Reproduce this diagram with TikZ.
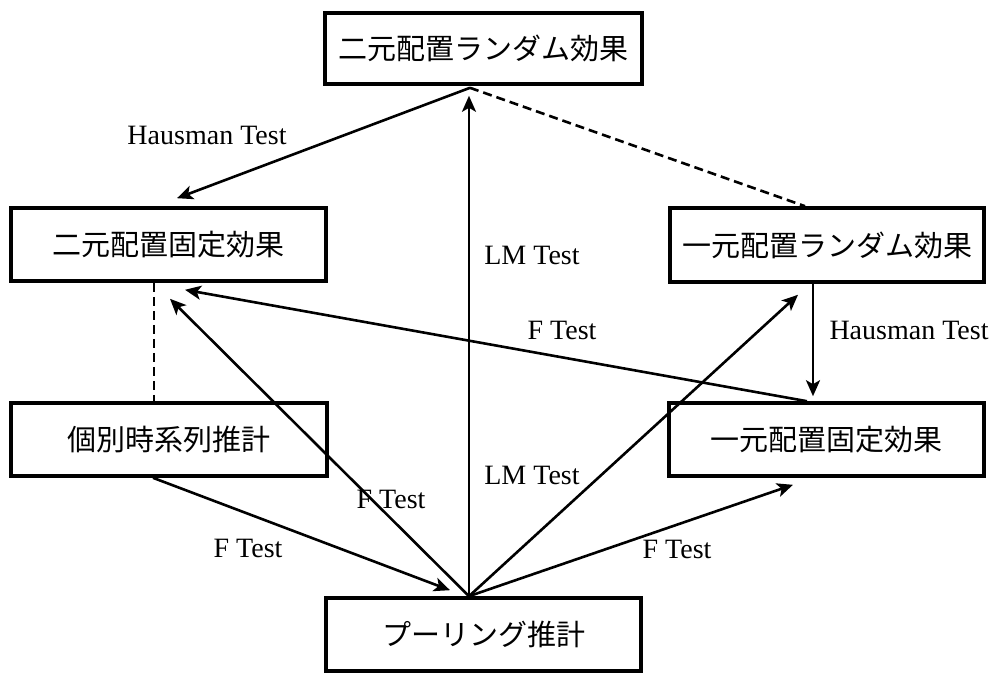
\documentclass[tikz,border=0pt]{standalone}
\usepackage{fontspec}
\setmainfont{Liberation Serif}
\newfontfamily\jp{Noto Sans CJK JP}
\usetikzlibrary{arrows.meta}
\begin{document}
\begin{tikzpicture}[x=1pt,y=-1pt,
  box/.style={draw,line width=3.6pt,minimum height=73pt,inner sep=0pt,font=\jp\fontsize{29}{34}\selectfont},
  conn/.style={line width=2.6pt,-{Stealth[length=16pt,width=14pt,inset=4pt]}},
  dashline/.style={line width=2.6pt,dash pattern=on 9pt off 5pt},
  lbl/.style={font=\fontsize{28}{32}\selectfont,inner sep=0pt}]
\useasboundingbox (0,0) rectangle (999,673);
\fill[white] (0,0) rectangle (999,673);
% boxes
\node[box,minimum width=317pt,minimum height=71pt] (top) at (483.5,48.5) {二元配置ランダム効果};
\node[box,minimum width=315pt] (lf) at (168.5,244.5) {二元配置固定効果};
\node[box,minimum width=314pt,minimum height=74pt] (rr) at (827,245) {一元配置ランダム効果};
\node[box,minimum width=316pt] (ind) at (169,439.5) {個別時系列推計};
\node[box,minimum width=315pt] (rf) at (826.5,439.5) {一元配置固定効果};
\node[box,minimum width=315pt] (pool) at (483.5,634.5) {プーリング推計};
% attachment points
\coordinate (tapex) at ([xshift=-13.5pt,yshift=-2pt]top.south);
\coordinate (papex) at ([xshift=-14.5pt]pool.north);
% connectors
\draw[conn] (tapex) -- ([xshift=8.5pt,yshift=8pt]lf.north);
\draw[dashline] (tapex) -- ([xshift=-22pt]rr.north);
\draw[conn] (papex) -- ([xshift=-14.5pt,yshift=-10pt]top.south);
\draw[dashline] ([xshift=-14.5pt]lf.south) -- ([xshift=-15pt]ind.north);
\draw[conn] ([xshift=-19.5pt]rf.north) -- ([xshift=16.5pt,yshift=-7pt]lf.south);
\draw[conn] ([xshift=-14pt]rr.south) -- ([xshift=-13.5pt,yshift=5pt]rf.north);
\draw[conn] (papex) -- ([xshift=1.5pt,yshift=-16pt]lf.south);
\draw[conn] (papex) -- ([xshift=-29pt,yshift=-11pt]rr.south);
\draw[conn] (papex) -- ([xshift=-33.5pt,yshift=-7pt]rf.south);
\draw[conn] ([xshift=-16pt]ind.south) -- ([xshift=-33.5pt,yshift=6pt]pool.north);
% labels
\node[lbl] (l1) at (207,135) {Hausman Test};
\node[lbl] (l2) at (532,255) {LM Test};
\node[lbl] (l3) at (562,330) {F Test};
\node[lbl] (l4) at (532,475) {LM Test};
\node[lbl] (l5) at (909,330) {Hausman Test};
\node[lbl] (l6) at (248,548) {F Test};
\node[lbl] (l7) at (391,499) {F Test};
\node[lbl] (l8) at (677,549) {F Test};
\end{tikzpicture}
\end{document}
